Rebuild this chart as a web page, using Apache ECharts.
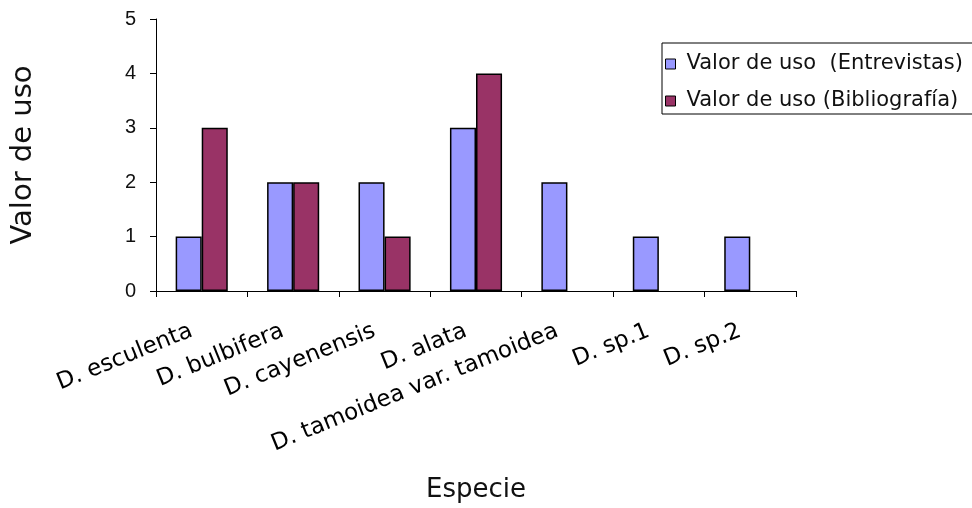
<!DOCTYPE html>
<html><head><meta charset="utf-8">
<script src="https://cdn.jsdelivr.net/npm/echarts@6/dist/echarts.min.js"></script>
<style>html,body{margin:0;padding:0;background:#fff}#c{width:972px;height:508px}</style>
</head><body><div id="c"></div>
<script>
const categories = ["D. esculenta","D. bulbifera","D. cayenensis","D. alata","D. tamoidea var. tamoidea","D. sp.1","D. sp.2"];
const entrevistas = [1,2,2,3,2,1,1];
const bibliografia = [3,2,1,4,null,null,null];
const seriesNames = ['Valor de uso  (Entrevistas)','Valor de uso (Bibliografía)'];

const chart = echarts.init(document.getElementById('c'));
const arial = 'Liberation Sans, Arial, sans-serif';
const wide = 'DejaVu Sans, sans-serif';
chart.setOption({
  animation:false,
  backgroundColor:'#fff',
  grid:{left:156,right:176,top:19,bottom:216},
  legend:{
    orient:'vertical', left:662, top:43, padding:[9,60,1,3], itemGap:13,
    borderColor:'#000', borderWidth:1, backgroundColor:'#fff',
    itemWidth:10, itemHeight:10, icon:'rect',
    itemStyle:{borderColor:'#000',borderWidth:1},
    textStyle:{fontFamily:wide,fontSize:21,lineHeight:24,color:'#111',padding:[0,0,0,6]},
    data:seriesNames
  },
  xAxis:{
    type:'category', data:categories,
    name:'Especie', nameLocation:'middle', nameGap:186,
    nameTextStyle:{fontFamily:wide,fontSize:26,color:'#111'},
    axisLine:{lineStyle:{color:'#000',width:1}},
    axisTick:{show:true,length:6,lineStyle:{color:'#000'}},
    axisLabel:{rotate:22,fontFamily:wide,fontSize:23,color:'#000',margin:35,padding:[0,11,0,0]}
  },
  yAxis:{
    type:'value', min:0, max:5, interval:1,
    name:'Valor de uso', nameLocation:'middle', nameGap:118,
    nameTextStyle:{fontFamily:wide,fontSize:29,color:'#111'},
    axisLine:{show:true,lineStyle:{color:'#000',width:1}},
    axisTick:{show:true,length:6,lineStyle:{color:'#000'}},
    splitLine:{show:false},
    axisLabel:{fontFamily:arial,fontSize:20,color:'#111',margin:20}
  },
  series:[
    {name:seriesNames[0],type:'bar',data:entrevistas,barGap:'0%',barCategoryGap:'43%',
     itemStyle:{color:'#9999ff',borderColor:'#000',borderWidth:1.5}},
    {name:seriesNames[1],type:'bar',data:bibliografia,barGap:'0%',barCategoryGap:'43%',
     itemStyle:{color:'#993366',borderColor:'#000',borderWidth:1.5}}
  ]
});
</script></body></html>
